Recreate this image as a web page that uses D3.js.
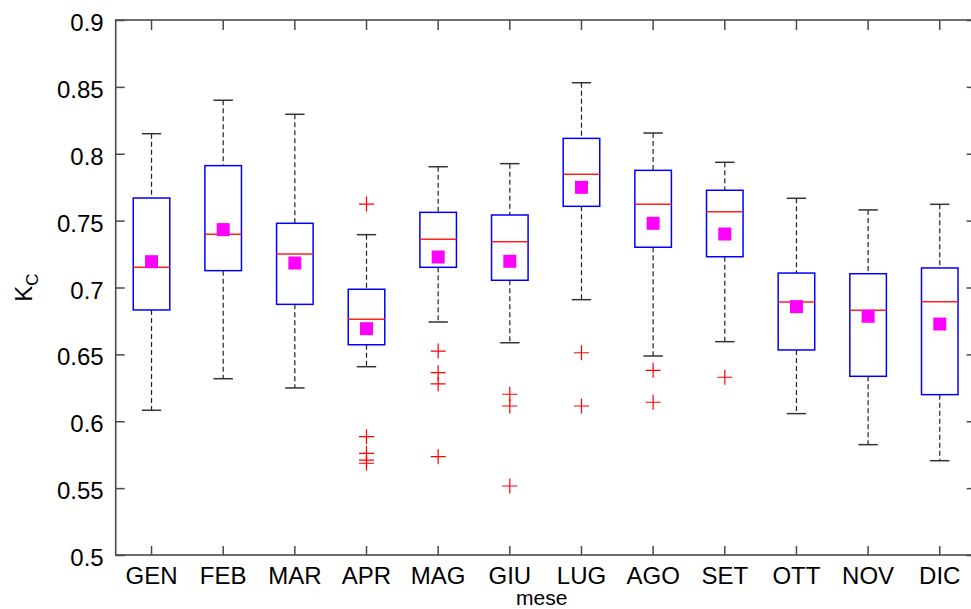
<!DOCTYPE html>
<html>
<head>
<meta charset="utf-8">
<script src="https://cdn.jsdelivr.net/npm/d3@7"></script>
<style>
html,body{margin:0;padding:0;background:#fff;}
svg{display:block;}
text{font-family:"Liberation Sans",Arial,Helvetica,sans-serif;fill:#000;}
</style>
</head>
<body>
<svg id="chart" width="971" height="609"></svg>
<script>
// Data
const months = ["GEN","FEB","MAR","APR","MAG","GIU","LUG","AGO","SET","OTT","NOV","DIC"];
const whiskerHigh = [0.815,0.840,0.8295,0.7395,0.7903,0.7926,0.8531,0.8155,0.7936,0.7667,0.758,0.7622];
const q3          = [0.7669,0.7911,0.748,0.6987,0.7562,0.7542,0.8115,0.7876,0.7727,0.7108,0.7103,0.7146];
const medians     = [0.7151,0.7398,0.725,0.6762,0.736,0.7342,0.7846,0.7622,0.7567,0.6892,0.683,0.6894];
const means       = [0.7193,0.7433,0.7183,0.6692,0.7228,0.7196,0.7749,0.748,0.74,0.6857,0.6785,0.6727];
const q1          = [0.6832,0.7126,0.6874,0.6572,0.7151,0.7054,0.7607,0.7301,0.723,0.6533,0.6336,0.6199];
const whiskerLow  = [0.6082,0.6318,0.6249,0.6408,0.6742,0.6587,0.6909,0.6488,0.6595,0.6057,0.5825,0.5705];
const outliers = [
  [],
  [],
  [],
  [0.7624,0.5885,0.576,0.571,0.5686],
  [0.6525,0.6363,0.6279,0.5735],
  [0.6202,0.6114,0.5516],
  [0.6512,0.6114],
  [0.6381,0.6142],
  [0.6329],
  [],
  [],
  []
];
const yTicks = [0.5,0.55,0.6,0.65,0.7,0.75,0.8,0.85,0.9];
const yTickLabels = ["0.5","0.55","0.6","0.65","0.7","0.75","0.8","0.85","0.9"];

const svg = d3.select("#chart");
const L = 115.7, R = 975.6, T = 20, B = 555;

const x = d3.scaleBand().domain(months).range([L, R]).paddingInner(0).paddingOuter(0);
const y = d3.scaleLinear().domain([0.5, 0.9]).range([B, T]);
const bw = x.bandwidth();
const cx = m => x(m) + bw / 2;

const axisColor = "#4a4a4a";
const fontSize = 24;
const ff = '"Liberation Sans",Arial,sans-serif';

// Frame lines
svg.append("rect").attr("x", L).attr("y", T).attr("width", R - L).attr("height", B - T)
  .attr("fill", "none").attr("stroke", axisColor).attr("stroke-width", 1.6);

// Left axis
const yAxis = d3.axisLeft(y).tickValues(yTicks).tickFormat((d, i) => yTickLabels[i])
  .tickSizeInner(-9).tickSizeOuter(0).tickPadding(12);
const gy = svg.append("g").attr("transform", `translate(${L},0)`).call(yAxis);
gy.select(".domain").remove();
gy.selectAll(".tick line").attr("stroke", axisColor).attr("stroke-width", 1.5);
gy.selectAll(".tick text").attr("font-size", fontSize).attr("dy", "0.44em")
  .style("font-family", ff).attr("fill", "#000");

// Right axis ticks
const yAxisR = d3.axisRight(y).tickValues(yTicks).tickFormat("").tickSizeInner(-9).tickSizeOuter(0);
const gyr = svg.append("g").attr("transform", `translate(${R},0)`).call(yAxisR);
gyr.select(".domain").remove();
gyr.selectAll(".tick line").attr("stroke", axisColor).attr("stroke-width", 1.5);

// Bottom axis
const xAxis = d3.axisBottom(x).tickSizeInner(-9).tickSizeOuter(0).tickPadding(10);
const gx = svg.append("g").attr("transform", `translate(0,${B})`).call(xAxis);
gx.select(".domain").remove();
gx.selectAll(".tick line").attr("stroke", axisColor).attr("stroke-width", 1.5);
gx.selectAll(".tick text").attr("font-size", fontSize).attr("dy", "0.8em")
  .style("font-family", ff).attr("fill", "#000");

// Top axis ticks
const xAxisT = d3.axisTop(x).tickSizeInner(-10).tickSizeOuter(0).tickFormat("");
const gxt = svg.append("g").attr("transform", `translate(0,${T})`).call(xAxisT);
gxt.select(".domain").remove();
gxt.selectAll(".tick line").attr("stroke", axisColor).attr("stroke-width", 1.5);

// Boxes
const boxW = bw * 0.51;
const capW = bw * 0.27;
const g = svg.append("g");
months.forEach((m, i) => {
  const c = cx(m);
  // whiskers (dashed)
  g.append("line").attr("x1", c).attr("x2", c).attr("y1", y(whiskerHigh[i])).attr("y2", y(q3[i]))
    .attr("stroke", "#222").attr("stroke-width", 1.2).attr("stroke-dasharray", "5,3");
  g.append("line").attr("x1", c).attr("x2", c).attr("y1", y(q1[i])).attr("y2", y(whiskerLow[i]))
    .attr("stroke", "#222").attr("stroke-width", 1.2).attr("stroke-dasharray", "5,3");
  // caps
  g.append("line").attr("x1", c - capW / 2).attr("x2", c + capW / 2).attr("y1", y(whiskerHigh[i])).attr("y2", y(whiskerHigh[i]))
    .attr("stroke", "#333").attr("stroke-width", 1.5);
  g.append("line").attr("x1", c - capW / 2).attr("x2", c + capW / 2).attr("y1", y(whiskerLow[i])).attr("y2", y(whiskerLow[i]))
    .attr("stroke", "#333").attr("stroke-width", 1.5);
  // box
  g.append("rect").attr("x", c - boxW / 2).attr("y", y(q3[i])).attr("width", boxW).attr("height", y(q1[i]) - y(q3[i]))
    .attr("fill", "none").attr("stroke", "#0000ff").attr("stroke-width", 1.5);
  // median
  g.append("line").attr("x1", c - boxW / 2).attr("x2", c + boxW / 2).attr("y1", y(medians[i])).attr("y2", y(medians[i]))
    .attr("stroke", "#ff2020").attr("stroke-width", 1.5);
  // outliers
  outliers[i].forEach(v => {
    const yy = y(v);
    g.append("path").attr("d", `M${c - 7.5},${yy}H${c + 7.5}M${c},${yy - 7.5}V${yy + 7.5}`)
      .attr("stroke", "#ff0000").attr("stroke-width", 1.2).attr("fill", "none");
  });
  // mean
  const s = 13;
  g.append("rect").attr("x", c - s / 2).attr("y", y(means[i]) - s / 2).attr("width", s).attr("height", s)
    .attr("fill", "#ff00ff");
});

// Axis labels
svg.append("text").attr("x", (L + R) / 2 - 4).attr("y", 604.5).attr("text-anchor", "middle")
  .attr("font-size", 21).text("mese");

const yl = svg.append("text").attr("transform", `translate(32,${(T + B) / 2}) rotate(-90)`)
  .attr("text-anchor", "middle").attr("font-size", 24);
yl.append("tspan").text("K");
yl.append("tspan").attr("font-size", 17).attr("dy", 6).text("C");
</script>
</body>
</html>
